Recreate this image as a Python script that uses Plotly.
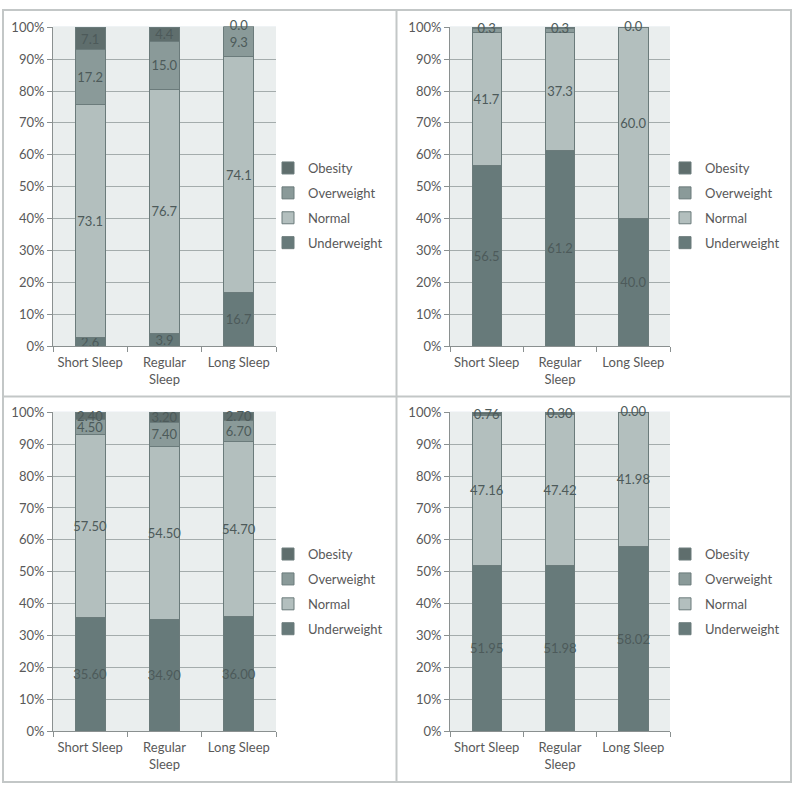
import plotly.graph_objects as go

categories = ["Short Sleep", "Regular<br>Sleep", "Long Sleep"]
series_names = ["Underweight", "Normal", "Overweight", "Obesity"]
y_ticks = list(range(0, 101, 10))
y_tick_labels = [f"{v}%" for v in y_ticks]

# Panel A (top-left)
a_under = [2.6, 3.9, 16.7]
a_normal = [73.1, 76.7, 74.1]
a_over = [17.2, 15.0, 9.3]
a_obese = [7.1, 4.4, 0.0]

# Panel B (top-right)
b_under = [56.5, 61.2, 40.0]
b_normal = [41.7, 37.3, 60.0]
b_over = [1.5, 1.2, 0.0]
b_obese = [0.3, 0.3, 0.0]

# Panel C (bottom-left)
c_under = [35.60, 34.90, 36.00]
c_normal = [57.50, 54.50, 54.70]
c_over = [4.50, 7.40, 6.70]
c_obese = [2.40, 3.20, 2.70]

# Panel D (bottom-right)
d_under = [51.95, 51.98, 58.02]
d_normal = [47.16, 47.42, 41.98]
d_over = [0.13, 0.30, 0.00]
d_obese = [0.76, 0.30, 0.00]

panels = [
    dict(data=[a_under, a_normal, a_over, a_obese], fmt="{:.1f}", show=[True, True, True, True]),
    dict(data=[b_under, b_normal, b_over, b_obese], fmt="{:.1f}", show=[True, True, False, True]),
    dict(data=[c_under, c_normal, c_over, c_obese], fmt="{:.2f}", show=[True, True, True, True]),
    dict(data=[d_under, d_normal, d_over, d_obese], fmt="{:.2f}", show=[True, True, False, True]),
]

colors = ["#677a7a", "#b3bfbe", "#8a9a99", "#5f6e6d"]
FONT = "Lato"
TXT = "#595959"
LBL = "#4d5a5a"
W = H = 794

# plot-area boxes in pixels: (x0, x1, ytop, ybottom)
boxes = [(53, 276, 19, 345), (450, 670, 19, 345), (53, 276, 412, 738), (450, 670, 412, 738)]
legend_pos = [(268, 148), (665, 148), (268, 542), (665, 542)]

fig = go.Figure()
for i, p in enumerate(panels):
    xa = "x" if i == 0 else f"x{i+1}"
    ya = "y" if i == 0 else f"y{i+1}"
    lg = "legend" if i == 0 else f"legend{i+1}"
    for s, (name, vals) in enumerate(zip(series_names, p["data"])):
        texts = [p["fmt"].format(v) if (p["show"][s] and v > 0) else "" for v in vals]
        fig.add_trace(go.Bar(
            x=categories, y=vals, name=name, xaxis=xa, yaxis=ya, legend=lg,
            legendgroup=f"{i}-{name}", legendrank=4 - s,
            marker=dict(color=colors[s], line=dict(color="#6b7b7b", width=1)),
            text=texts, textposition="inside", insidetextanchor="middle",
            textangle=0, constraintext="none", cliponaxis=False,
            textfont=dict(family=FONT, size=13, color=LBL),
            hoverinfo="skip",
        ))
    # labels for zero-height obesity segments, placed at top of the stack
    tops = [sum(col) for col in zip(*p["data"])]
    obese = p["data"][3]
    zx = [c for c, v in zip(categories, obese) if v == 0]
    zy = [t for t, v in zip(tops, obese) if v == 0]
    zt = [p["fmt"].format(v) for v in obese if v == 0]
    if zx:
        fig.add_trace(go.Scatter(
            x=zx, y=zy, text=zt, mode="text", textposition="middle center",
            xaxis=xa, yaxis=ya, showlegend=False, cliponaxis=False,
            textfont=dict(family=FONT, size=13, color=LBL), hoverinfo="skip",
        ))

layout = dict(
    width=W, height=H, margin=dict(l=0, r=0, t=0, b=0),
    paper_bgcolor="white", barmode="stack", bargap=0.6,
    font=dict(family=FONT, size=13, color=TXT),
    uniformtext=dict(mode="show", minsize=13),
    showlegend=True,
)
for i, (x0, x1, yt, yb) in enumerate(boxes):
    sx = "xaxis" if i == 0 else f"xaxis{i+1}"
    sy = "yaxis" if i == 0 else f"yaxis{i+1}"
    xa = "x" if i == 0 else f"x{i+1}"
    ya = "y" if i == 0 else f"y{i+1}"
    layout[sx] = dict(
        domain=[x0 / W, x1 / W], anchor=ya, type="category",
        tickson="boundaries", ticks="outside", ticklen=5, tickcolor="#8a9090",
        showline=True, linecolor="#8a9090", linewidth=1, showgrid=False,
        tickangle=0, ticklabelstandoff=4,
        tickfont=dict(family=FONT, size=13, color=TXT),
    )
    layout[sy] = dict(
        domain=[1 - yb / H, 1 - yt / H], anchor=xa, range=[0, 100.2],
        tickmode="array", tickvals=y_ticks, ticktext=y_tick_labels,
        ticks="outside", ticklen=5, tickcolor="#8a9090",
        showline=True, linecolor="#8a9090", linewidth=1,
        showgrid=True, gridcolor="#a4acac", gridwidth=1, zeroline=False,
        tickfont=dict(family=FONT, size=13, color=TXT),
    )
    lg = "legend" if i == 0 else f"legend{i+1}"
    lx, ly = legend_pos[i]
    layout[lg] = dict(
        x=lx / W, y=1 - ly / H, xanchor="left", yanchor="top",
        traceorder="grouped", tracegroupgap=5,
        bgcolor="rgba(0,0,0,0)", itemclick=False, itemdoubleclick=False,
        font=dict(family=FONT, size=13, color=TXT),
    )
fig.update_layout(**layout)

shapes = []
for (x0, x1, yt, yb) in boxes:
    shapes.append(dict(type="rect", xref="paper", yref="paper", layer="below",
                       x0=x0 / W, x1=x1 / W, y0=1 - yb / H, y1=1 - yt / H,
                       fillcolor="#eaeeee", line=dict(width=0)))
bc = dict(color="#c3c7c7", width=2)
shapes.append(dict(type="rect", xref="paper", yref="paper", x0=3 / W, x1=791 / W,
                   y0=1 - 790 / H, y1=1 - 2 / H, line=bc, fillcolor="rgba(0,0,0,0)"))
shapes.append(dict(type="line", xref="paper", yref="paper", x0=396.5 / W, x1=396.5 / W,
                   y0=1 - 790 / H, y1=1 - 2 / H, line=bc))
shapes.append(dict(type="line", xref="paper", yref="paper", x0=3 / W, x1=791 / W,
                   y0=1 - 396.5 / H, y1=1 - 396.5 / H, line=bc))
fig.update_layout(shapes=shapes)

page_fix = (
    "document.documentElement.style.cssText='margin:0;padding:0;overflow:hidden;';"
    "document.body.style.cssText='margin:0;padding:0;overflow:hidden;';"
    "var gd=document.getElementById('{plot_id}');"
    "gd.style.position='fixed';gd.style.left='0px';gd.style.top='0px';"
)
fig.write_html("out.html", config={"displayModeBar": False}, post_script=page_fix)
